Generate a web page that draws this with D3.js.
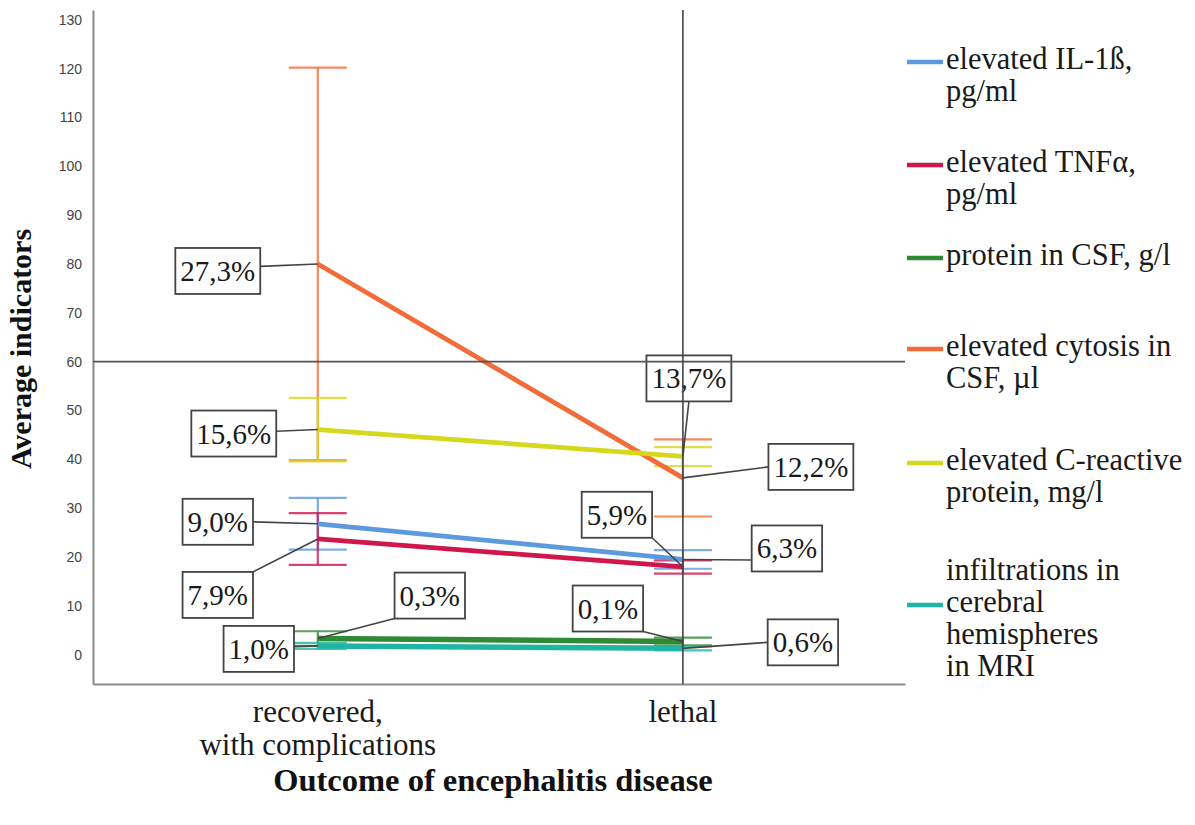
<!DOCTYPE html>
<html>
<head>
<meta charset="utf-8">
<script src="https://cdn.jsdelivr.net/npm/d3@7"></script>
<style>
  html, body { margin: 0; padding: 0; background: #fff; }
  svg { display: block; }
</style>
</head>
<body>
<svg id="chart" width="1195" height="825"></svg>
<script>
// ---------------- DATA ----------------
const categories = ["recovered, with complications", "lethal"];
const categoryLabelLines = [["recovered,", "with complications"], ["lethal"]];
const yTickValues = [0, 10, 20, 30, 40, 50, 60, 70, 80, 90, 100, 110, 120, 130];

const seriesNames = ["elevated IL-1ß, pg/ml", "elevated TNFα, pg/ml", "protein in CSF, g/l",
                     "elevated cytosis in CSF, µl", "elevated C-reactive protein, mg/l",
                     "infiltrations in cerebral hemispheres in MRI"];
const legendLines = [["elevated IL-1ß,", "pg/ml"], ["elevated TNFα,", "pg/ml"], ["protein in CSF, g/l"],
                     ["elevated cytosis in", "CSF, µl"], ["elevated C-reactive", "protein, mg/l"],
                     ["infiltrations in", "cerebral", "hemispheres", "in MRI"]];

// means per category
const meanIL1b      = [26.8, 19.5];
const meanTNFa      = [23.7, 18.0];
const meanProtein   = [3.3, 2.7];
const meanCytosis   = [80.0, 36.2];
const meanCRP       = [46.1, 40.6];
const meanInfiltr   = [1.8, 1.3];
// error bar bounds
const lowIL1b    = [21.5, 17.6];  const highIL1b    = [32.1, 21.4];
const lowTNFa    = [18.4, 16.6];  const highTNFa    = [29.0, 19.3];
const lowProtein = [1.8, 1.9];    const highProtein = [4.8, 3.5];
const lowCytosis = [39.8, 28.3];  const highCytosis = [120.2, 44.1];
const lowCRP     = [39.6, 38.6];  const highCRP     = [52.6, 42.5];
const lowInfiltr = [1.2, 0.9];    const highInfiltr = [2.4, 1.7];

// percentage labels: [series index, category index, text]
const pointLabels = [
  [3, 0, "27,3%"], [4, 0, "15,6%"], [0, 0, "9,0%"], [1, 0, "7,9%"], [2, 0, "0,3%"], [5, 0, "1,0%"],
  [4, 1, "13,7%"], [3, 1, "12,2%"], [1, 1, "5,9%"], [0, 1, "6,3%"], [2, 1, "0,1%"], [5, 1, "0,6%"]
];

// ---------------- STYLE / LAYOUT ----------------
const seriesColors = ["#5b9ade", "#d0164a", "#2f8a34", "#f26b38", "#d6d81e", "#1fb5a2"];
// label box offsets from the point (dx, dy) and connector anchor on the box (ax, ay in -1..1)
const labelLayout = [
  [-100, 7, 1, -0.2], [-84, 4, 1, -0.1], [-100, -2, 1, 0], [-100, 56, 1, -1], [112, -43, -1, 1], [-59, 3, 1, -0.1],
  [6, -78, 0, 1], [128, -11, -1, 0], [-66, -52, 1, 1], [104, -11, -1, 0.5], [-75, -33, 1, 1], [120, -6, -1, 0]
];
const legendSwatchY = [62, 165, 258, 349, 463, 605];

const means = [meanIL1b, meanTNFa, meanProtein, meanCytosis, meanCRP, meanInfiltr];
const lows  = [lowIL1b, lowTNFa, lowProtein, lowCytosis, lowCRP, lowInfiltr];
const highs = [highIL1b, highTNFa, highProtein, highCytosis, highCRP, highInfiltr];

const svg = d3.select("#chart");
const plotLeft = 93, plotRight = 905, plotTop = 10, plotBottom = 684;

const x = d3.scalePoint().domain(categories).range([plotLeft, plotRight]).padding(0.612).align(0.503);
const y = d3.scaleLinear().domain([-6, 132]).range([plotBottom, plotTop]);

const serif = "'Liberation Serif', 'Times New Roman', serif";
const sans = "'Liberation Sans', Arial, sans-serif";

// Y axis
const yAxis = svg.append("g").attr("transform", `translate(${plotLeft},0)`)
  .call(d3.axisLeft(y).tickValues(yTickValues).tickSize(0).tickSizeOuter(0).tickPadding(11));
yAxis.select(".domain").attr("stroke", "#8a8a8a").attr("stroke-width", 2);
yAxis.selectAll("text").attr("font-family", sans).attr("font-size", 14).attr("fill", "#444");

// X axis
const xAxis = svg.append("g").attr("transform", `translate(0,${plotBottom})`)
  .call(d3.axisBottom(x).tickSize(0).tickSizeOuter(0).tickFormat(""));
xAxis.select(".domain").attr("stroke", "#8a8a8a").attr("stroke-width", 2);

categories.forEach((c, i) => {
  const t = svg.append("text").attr("text-anchor", "middle").attr("font-family", serif)
    .attr("font-size", 31).attr("fill", "#1a1a1a");
  categoryLabelLines[i].forEach((ln, k) => {
    t.append("tspan").attr("x", x(c)).attr("y", 722 + k * 33).text(ln);
  });
});

// axis titles
svg.append("text").attr("x", 493).attr("y", 791).attr("text-anchor", "middle")
  .attr("font-family", serif).attr("font-weight", "bold").attr("font-size", 32.5).attr("fill", "#111")
  .text("Outcome of encephalitis disease");
svg.append("text").attr("transform", `translate(31,349) rotate(-90)`).attr("text-anchor", "middle")
  .attr("font-family", serif).attr("font-weight", "bold").attr("font-size", 30).attr("fill", "#111")
  .text("Average indicators");

// error bars
const capHalf = 29;
const eb = svg.append("g");
means.forEach((m, s) => {
  categories.forEach((c, i) => {
    const cx = x(c);
    const g = eb.append("g").attr("stroke", seriesColors[s]).attr("stroke-width", 2.2).attr("stroke-opacity", 0.8);
    g.append("line").attr("x1", cx).attr("x2", cx).attr("y1", y(lows[s][i])).attr("y2", y(highs[s][i]));
    g.append("line").attr("x1", cx - capHalf).attr("x2", cx + capHalf).attr("y1", y(lows[s][i])).attr("y2", y(lows[s][i]));
    g.append("line").attr("x1", cx - capHalf).attr("x2", cx + capHalf).attr("y1", y(highs[s][i])).attr("y2", y(highs[s][i]));
  });
});

// series lines
const line = d3.line().x((d, i) => x(categories[i])).y(d => y(d));
means.forEach((m, s) => {
  svg.append("path").attr("d", line(m)).attr("fill", "none")
    .attr("stroke", seriesColors[s]).attr("stroke-width", s === 2 || s === 5 ? 5.5 : 4.8);
});

// labels
const lblG = svg.append("g");
pointLabels.forEach((pl, k) => {
  const [s, ci, txt] = pl;
  const [dx, dy, ax, ay] = labelLayout[k];
  const px = x(categories[ci]), py = y(means[s][ci]);
  const cx = px + dx, cy = py + dy;
  const g = lblG.append("g");
  const conn = g.append("line").attr("stroke", "#444").attr("stroke-width", 1.6);
  const rect = g.append("rect").attr("fill", "#fff").attr("stroke", "#444").attr("stroke-width", 1.8);
  const t = g.append("text").attr("x", cx).attr("y", cy + 10).attr("text-anchor", "middle")
    .attr("font-family", serif).attr("font-size", 29).attr("fill", "#1a1a1a").text(txt);
  const w = t.node().getComputedTextLength() + 10, h = 46;
  rect.attr("x", cx - w / 2).attr("y", cy - h / 2).attr("width", w).attr("height", h);
  conn.attr("x1", cx + ax * w / 2).attr("y1", cy + ay * h / 2).attr("x2", px).attr("y2", py);
});

// reference lines (on top)
svg.append("line").attr("x1", plotLeft).attr("x2", plotRight).attr("y1", y(60)).attr("y2", y(60))
  .attr("stroke", "#555").attr("stroke-width", 1.6);
svg.append("line").attr("x1", x("lethal")).attr("x2", x("lethal")).attr("y1", plotTop).attr("y2", plotBottom)
  .attr("stroke", "#444").attr("stroke-width", 1.6);

// legend
const leg = svg.append("g");
seriesNames.forEach((name, s) => {
  const sy = legendSwatchY[s];
  leg.append("line").attr("x1", 907).attr("x2", 943).attr("y1", sy).attr("y2", sy)
    .attr("stroke", seriesColors[s]).attr("stroke-width", 4.5);
  const lines = legendLines[s];
  const mid = Math.floor((lines.length - 1) / 2);
  const t = leg.append("text").attr("font-family", serif).attr("font-size", 30.5).attr("fill", "#1a1a1a");
  lines.forEach((ln, k) => {
    t.append("tspan").attr("x", 946).attr("y", sy + 7 + (k - mid) * 32).text(ln);
  });
});
</script>
</body>
</html>
